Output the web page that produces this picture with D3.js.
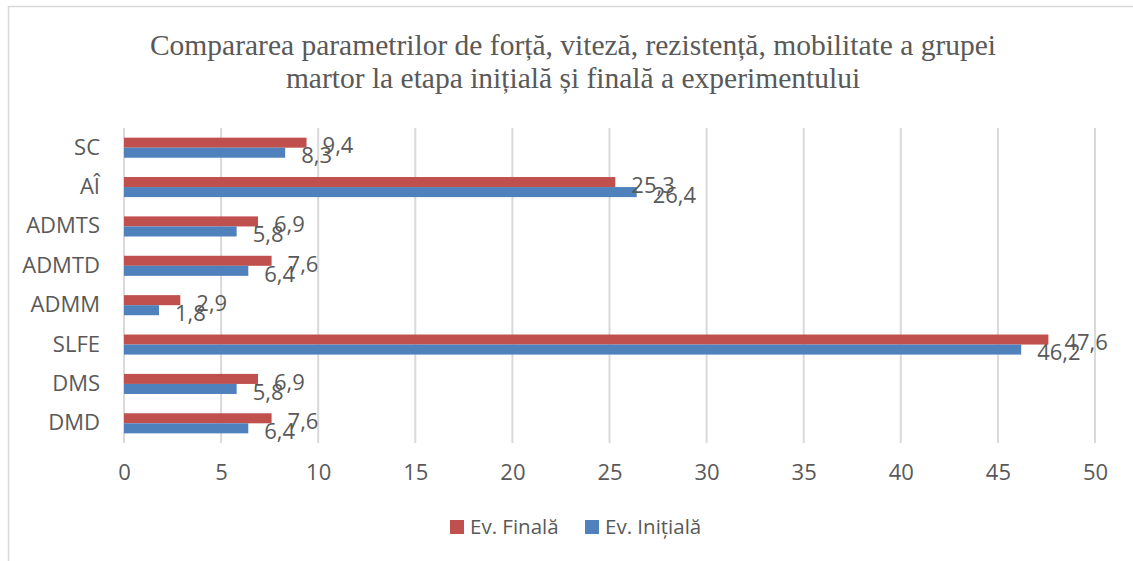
<!DOCTYPE html>
<html>
<head>
<meta charset="utf-8">
<script src="https://cdn.jsdelivr.net/npm/d3@7"></script>
<style>
  body { margin: 0; background: #fff; }
  text { font-family: "Open Sans", sans-serif; fill: #595959; }
</style>
</head>
<body>
<div id="chart"></div>
<script>
// categories top -> bottom
var categories = ["SC", "AÎ", "ADMTS", "ADMTD", "ADMM", "SLFE", "DMS", "DMD"];
var finala = [9.4, 25.3, 6.9, 7.6, 2.9, 47.6, 6.9, 7.6];
var initiala = [8.3, 26.4, 5.8, 6.4, 1.8, 46.2, 5.8, 6.4];
var seriesNames = ["Ev. Finală", "Ev. Inițială"];
var seriesColors = ["#c0504d", "#4f81bd"];
var xTicks = [0, 5, 10, 15, 20, 25, 30, 35, 40, 45, 50];

var W = 1133, H = 561;
var margin = { top: 128, left: 124, right: 38, bottom: 118 };

var svg = d3.select("#chart").append("svg")
    .attr("width", W)
    .attr("height", H);

// chart border (only top/left visible in the crop)
svg.append("path")
    .attr("d", "M8.5," + H + "V6.5H" + W)
    .attr("fill", "none")
    .attr("stroke", "#d9d9d9")
    .attr("stroke-width", 1.5);

// title
var title = svg.append("text")
    .attr("text-anchor", "middle")
    .style("font-family", "'Liberation Serif', 'Times New Roman', serif")
    .style("font-size", "29.5px");
title.append("tspan").attr("x", 573).attr("y", 55)
    .text("Compararea parametrilor de forță, viteză, rezistență, mobilitate a grupei");
title.append("tspan").attr("x", 573).attr("y", 88)
    .text("martor la etapa inițială și finală a experimentului");

var x = d3.scaleLinear()
    .domain([0, 50])
    .range([margin.left, W - margin.right]);

var y = d3.scaleBand()
    .domain(categories)
    .range([margin.top, H - margin.bottom])
    .paddingInner(0.49)
    .paddingOuter(0.245);

var inner = d3.scaleBand()
    .domain(seriesNames)
    .range([0, y.bandwidth()]);

// gridlines
svg.append("g")
    .selectAll("line")
    .data(xTicks)
    .join("line")
    .attr("x1", function (d) { return x(d); })
    .attr("x2", function (d) { return x(d); })
    .attr("y1", margin.top)
    .attr("y2", H - margin.bottom)
    .attr("stroke", "#d9d9d9")
    .attr("stroke-width", 2);

// x axis labels
var xAxis = svg.append("g")
    .attr("transform", "translate(0," + (H - margin.bottom) + ")")
    .call(d3.axisBottom(x).tickValues(xTicks).tickSize(0).tickPadding(21));
xAxis.select(".domain").remove();
xAxis.selectAll("text")
    .style("font-family", "'Open Sans', sans-serif")
    .style("font-size", "22px")
    .attr("fill", "#595959");

// y axis labels
var yAxis = svg.append("g")
    .attr("transform", "translate(" + margin.left + ",0)")
    .call(d3.axisLeft(y).tickSize(0).tickPadding(24));
yAxis.select(".domain").remove();
yAxis.selectAll("text")
    .style("font-family", "'Open Sans', sans-serif")
    .style("font-size", "22px")
    .attr("fill", "#595959");

var rows = categories.map(function (c, i) {
    return { cat: c, values: [finala[i], initiala[i]] };
});

var fmt = function (v) { return d3.format(".1f")(v).replace(".", ","); };

var groups = svg.append("g")
    .selectAll("g")
    .data(rows)
    .join("g")
    .attr("transform", function (d) { return "translate(0," + y(d.cat) + ")"; });

groups.selectAll("rect")
    .data(function (d) { return d.values.map(function (v, j) { return { name: seriesNames[j], v: v, j: j }; }); })
    .join("rect")
    .attr("x", x(0))
    .attr("y", function (d) { return inner(d.name); })
    .attr("width", function (d) { return x(d.v) - x(0); })
    .attr("height", inner.bandwidth())
    .attr("fill", function (d) { return seriesColors[d.j]; });

// data labels
groups.selectAll("text.lbl")
    .data(function (d) { return d.values.map(function (v, j) { return { name: seriesNames[j], v: v, j: j }; }); })
    .join("text")
    .attr("class", "lbl")
    .attr("x", function (d) { return x(d.v) + 16; })
    .attr("y", function (d) { return inner(d.name) + inner.bandwidth() / 2 + 3; })
    .attr("dy", "0.35em")
    .style("font-size", "22px")
    .text(function (d) { return fmt(d.v); });

// legend
var legend = svg.append("g")
    .attr("transform", "translate(450,520)");
var legX = [0, 135];
seriesNames.forEach(function (name, i) {
    var g = legend.append("g").attr("transform", "translate(" + legX[i] + ",0)");
    g.append("rect")
        .attr("width", 14).attr("height", 14)
        .attr("fill", seriesColors[i]);
    g.append("text")
        .attr("x", 20).attr("y", 7)
        .attr("dy", "0.35em")
        .style("font-size", "20.5px")
        .text(name);
});
</script>
</body>
</html>
